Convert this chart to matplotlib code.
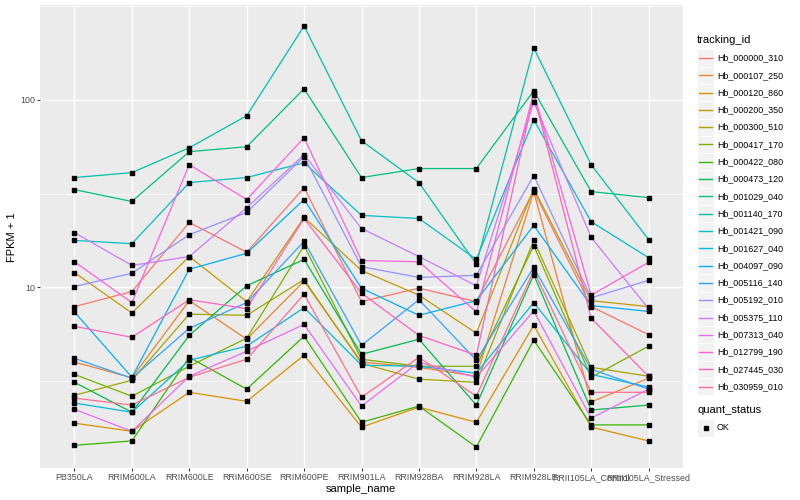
import matplotlib
matplotlib.use("Agg")
import matplotlib.pyplot as plt
from matplotlib.lines import Line2D
from matplotlib.patches import Rectangle
from matplotlib.ticker import FixedLocator, NullFormatter

plt.rcParams['font.family'] = ['Liberation Sans', 'DejaVu Sans']

# ---- data (FPKM + 1) ----
samples = ['PB350LA', 'RRIM600LA', 'RRIM600LE', 'RRIM600SE', 'RRIM600PE',
           'RRIM901LA', 'RRIM928BA', 'RRIM928LA', 'RRIM928LE',
           'RRII105LA_Control', 'RRII105LA_Stressed']

tracking_ids = ['Hb_000000_310', 'Hb_000107_250', 'Hb_000120_860', 'Hb_000200_350',
                'Hb_000300_510', 'Hb_000417_170', 'Hb_000422_080', 'Hb_000473_120',
                'Hb_001029_040', 'Hb_001140_170', 'Hb_001421_090', 'Hb_001627_040',
                'Hb_004097_090', 'Hb_005116_140', 'Hb_005192_010', 'Hb_005375_110',
                'Hb_007313_040', 'Hb_012799_190', 'Hb_027445_030', 'Hb_030959_010']

hb_000000_310 = [7.9, 9.5, 22.2, 15.4, 34.0, 8.4, 9.9, 8.4, 32.8, 7.9, 5.6]
hb_000107_250 = [4.0, 3.3, 8.5, 5.3, 10.8, 4.0, 3.75, 3.36, 32.4, 2.45, 3.28]
hb_000120_860 = [1.89, 1.71, 2.76, 2.47, 4.35, 1.80, 2.30, 1.91, 6.28, 1.80, 1.52]
hb_000200_350 = [12.0, 7.3, 14.6, 8.4, 23.6, 12.3, 9.1, 5.7, 33.6, 8.5, 7.9]
hb_000300_510 = [2.66, 3.20, 7.2, 7.1, 11.0, 3.94, 3.24, 3.12, 17.8, 3.75, 3.36]
hb_000417_170 = [3.44, 2.63, 3.80, 5.36, 16.7, 4.14, 3.80, 3.80, 16.7, 3.32, 4.86]
hb_000422_080 = [1.44, 1.52, 4.24, 2.87, 5.49, 1.91, 2.33, 1.41, 5.23, 1.85, 1.85]
hb_000473_120 = [3.12, 2.16, 5.55, 10.2, 14.1, 4.40, 5.29, 2.36, 11.7, 2.22, 2.36]
hb_001029_040 = [33.2, 28.7, 52.9, 56.2, 114.4, 38.5, 43.0, 43.0, 111.6, 32.4, 30.1]
hb_001140_170 = [38.5, 40.9, 55.5, 82.2, 247.5, 60.5, 36.2, 13.3, 189.0, 45.1, 18.0]
hb_001421_090 = [17.8, 17.1, 36.2, 38.5, 46.2, 24.2, 23.3, 14.1, 78.3, 22.4, 14.4]
hb_001627_040 = [2.42, 2.16, 4.09, 4.86, 7.8, 3.85, 3.80, 3.49, 8.3, 3.44, 2.94]
hb_004097_090 = [7.4, 3.32, 12.5, 15.2, 29.4, 9.9, 7.1, 8.5, 21.4, 8.0, 7.45]
hb_005116_140 = [4.19, 3.28, 6.05, 8.3, 17.6, 4.91, 8.6, 4.09, 12.8, 3.66, 2.87]
hb_005192_010 = [10.1, 11.9, 19.1, 25.1, 49.8, 12.9, 11.3, 11.6, 39.4, 8.8, 10.9]
hb_005375_110 = [19.6, 13.1, 14.6, 26.6, 51.0, 20.6, 14.6, 10.2, 97.6, 18.5, 7.7]
hb_007313_040 = [2.24, 1.71, 3.36, 4.57, 6.35, 2.33, 3.99, 3.32, 7.5, 2.01, 2.87]
hb_012799_190 = [13.7, 8.3, 45.1, 29.4, 62.8, 13.9, 13.7, 7.4, 109.0, 9.1, 13.6]
hb_027445_030 = [6.2, 5.42, 8.6, 7.7, 23.3, 9.3, 5.55, 4.35, 106.3, 6.85, 3.36]
hb_030959_010 = [2.57, 2.36, 3.32, 4.14, 9.2, 2.60, 4.24, 2.63, 12.3, 2.76, 2.76]

series = [hb_000000_310, hb_000107_250, hb_000120_860, hb_000200_350,
          hb_000300_510, hb_000417_170, hb_000422_080, hb_000473_120,
          hb_001029_040, hb_001140_170, hb_001421_090, hb_001627_040,
          hb_004097_090, hb_005116_140, hb_005192_010, hb_005375_110,
          hb_007313_040, hb_012799_190, hb_027445_030, hb_030959_010]

# ggplot2 default hue palette for 20 levels
colors = ['#F8766D', '#EA8331', '#D89000', '#C09B00', '#A3A500', '#7CAE00',
          '#39B600', '#00BB4E', '#00BF7D', '#00C1A3', '#00BFC4', '#00BAE0',
          '#00B0F6', '#35A2FF', '#9590FF', '#C77CFF', '#E76BF3', '#FA62DB',
          '#FF62BC', '#FF6C91']

W, H = 800, 500
fig = plt.figure(figsize=(8, 5), dpi=100)
ax = fig.add_axes([40 / W, 1 - 468 / H, 643 / W, 463 / H])
ax.set_facecolor('#EBEBEB')
for s in ax.spines.values():
    s.set_visible(False)

x = list(range(1, len(samples) + 1))
for vals, c in zip(series, colors):
    ax.plot(x, vals, color=c, lw=0.9, zorder=2)
for vals in series:
    ax.plot(x, vals, 's', color='black', ms=2.2, zorder=3)

ax.set_yscale('log')
ax.set_ylim(1.09, 320)
ax.set_xlim(0.4, len(samples) + 0.6)
ax.yaxis.set_major_locator(FixedLocator([10, 100]))
ax.yaxis.set_minor_locator(FixedLocator([3.162, 31.62, 316.2]))
ax.yaxis.set_minor_formatter(NullFormatter())
ax.set_yticklabels(['10', '100'])
ax.set_xticks(x)
ax.set_xticklabels(samples)

ax.grid(which='major', color='white', lw=1.05, zorder=0)
ax.grid(which='minor', axis='y', color='white', lw=0.5, zorder=0)
ax.set_axisbelow(True)
ax.tick_params(which='major', length=2.2, width=0.7, color='#333333',
               labelsize=6.4, labelcolor='#4D4D4D', pad=1.5)
ax.tick_params(which='minor', length=0)

fig.text(361 / W, 1 - 489 / H, 'sample_name', ha='center', va='center', fontsize=8)
fig.text(12 / W, 1 - 237 / H, 'FPKM + 1', ha='center', va='center',
         rotation=90, fontsize=8)

# ---- legend (ggplot style) ----
def px(xp, yp):
    return xp / W, 1 - yp / H

fig.text(*px(697, 40), 'tracking_id', ha='left', va='center', fontsize=8)
step = 17.3
for i, (name, c) in enumerate(zip(tracking_ids, colors)):
    yc = 58 + i * step
    fig.patches.append(Rectangle(px(697, yc + step / 2), 17 / W, step / H,
                                 transform=fig.transFigure, facecolor='#F2F2F2',
                                 edgecolor='white', lw=0.6))
    fig.lines.append(Line2D([699 / W, 712 / W], [1 - yc / H] * 2,
                            transform=fig.transFigure, color=c, lw=1.0))
    fig.text(*px(717, yc), name, ha='left', va='center', fontsize=6.4)

fig.text(*px(697, 410), 'quant_status', ha='left', va='center', fontsize=8)
fig.patches.append(Rectangle(px(697, 428 + step / 2), 17 / W, step / H,
                             transform=fig.transFigure, facecolor='#F2F2F2',
                             edgecolor='white', lw=0.6))
fig.lines.append(Line2D([705.5 / W], [1 - 428 / H], transform=fig.transFigure,
                        marker='s', color='black', ms=2.2, ls='none'))
fig.text(*px(717, 428), 'OK', ha='left', va='center', fontsize=6.4)

fig.savefig('out.png', dpi=100, facecolor='white')
